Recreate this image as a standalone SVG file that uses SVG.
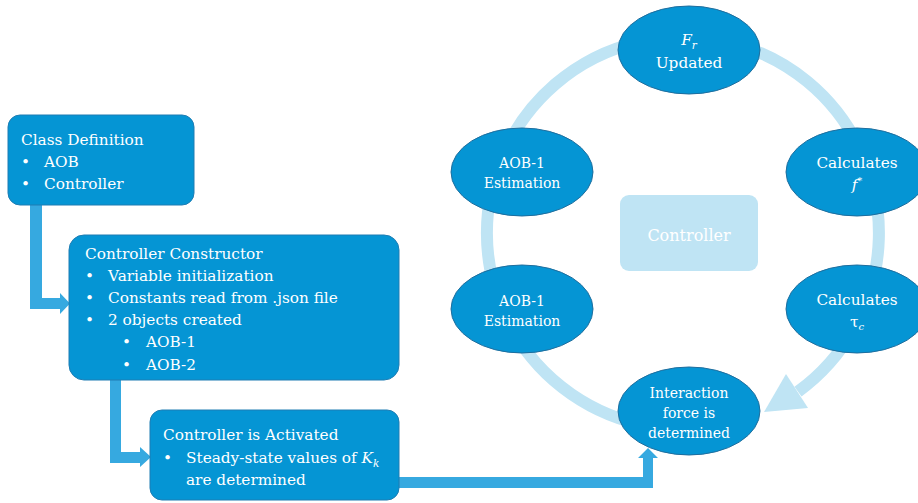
<svg xmlns="http://www.w3.org/2000/svg" width="918" height="503" viewBox="0 0 918 503">
<style>
.box{fill:#0595D4;stroke:#1F7DB3;stroke-width:1}
.ell{fill:#0595D4;stroke:#1F6E9E;stroke-width:1}
.t{font-family:"DejaVu Serif","Liberation Serif",serif;fill:#FFFFFF}
.lt{font-size:15.3px}
.et{font-size:14px;text-anchor:middle}
.ct{font-size:15.3px;text-anchor:middle}
.conn{fill:#36A9E0}
.ring{fill:none;stroke:#BFE4F4;stroke-width:12}
.i{font-style:italic}
</style>
<rect width="918" height="503" fill="#FFFFFF"/>
<g id="cycle-ring">
<path class="ring" d="M649,426 A196,196 0 1 1 798,391.6"/>
<polygon points="764,412 786,374 808,408" fill="#BFE4F4"/>
</g>
<g id="controller-center">
<rect x="620" y="195" width="138" height="76" rx="9" fill="#BFE4F4"/>
<text class="t" x="689" y="241" font-size="16" text-anchor="middle">Controller</text>
</g>
<g id="connectors">
<path class="conn" d="M30,205 H42 V298 H60 V293 L70,303.5 L60,314 V309 H30 Z"/>
<path class="conn" d="M110,380 H121 V452 H140 V447 L151,457 L140,467 V463 H110 Z"/>
<path class="conn" d="M399,477 H643 V458 H638 L648,448 L658,458 H653 V488 H399 Z"/>
</g>
<g id="class-definition">
<rect class="box" x="8" y="115" width="186" height="90" rx="12"/>
<text class="t lt" x="21" y="145">Class Definition</text>
<text class="t lt" x="21" y="167">•</text><text class="t lt" x="44" y="167">AOB</text>
<text class="t lt" x="21" y="189">•</text><text class="t lt" x="44" y="189">Controller</text>
</g>
<g id="controller-constructor">
<rect class="box" x="69" y="235" width="330" height="145" rx="15"/>
<text class="t lt" x="85" y="259">Controller Constructor</text>
<text class="t lt" x="85" y="281">•</text><text class="t lt" x="108" y="281">Variable initialization</text>
<text class="t lt" x="85" y="303">•</text><text class="t lt" x="108" y="303">Constants read from .json file</text>
<text class="t lt" x="85" y="325">•</text><text class="t lt" x="108" y="325">2 objects created</text>
<text class="t lt" x="122" y="347">•</text><text class="t lt" x="146" y="347">AOB-1</text>
<text class="t lt" x="122" y="370">•</text><text class="t lt" x="146" y="370">AOB-2</text>
</g>
<g id="controller-activated">
<rect class="box" x="150" y="410" width="249" height="90" rx="12"/>
<text class="t lt" x="163" y="440">Controller is Activated</text>
<text class="t lt" x="163" y="463">•</text><text class="t lt" x="186" y="463">Steady-state values of <tspan class="i">K</tspan><tspan class="i" font-size="10.5" dy="4">k</tspan></text>
<text class="t lt" x="186" y="485">are determined</text>
</g>
<g id="fr-updated">
<ellipse class="ell" cx="689" cy="50" rx="71" ry="44"/>
<text class="t ct" x="689" y="45"><tspan class="i">F</tspan><tspan class="i" font-size="10.5" dy="4">r</tspan></text>
<text class="t ct" x="689" y="68">Updated</text>
</g>
<g id="aob1-estimation-top">
<ellipse class="ell" cx="522" cy="172" rx="71" ry="44"/>
<text class="t et" x="522" y="168">AOB-1</text>
<text class="t et" x="522" y="188">Estimation</text>
</g>
<g id="aob1-estimation-bottom">
<ellipse class="ell" cx="522" cy="309" rx="71" ry="44"/>
<text class="t et" x="522" y="306">AOB-1</text>
<text class="t et" x="522" y="326">Estimation</text>
</g>
<g id="calculates-f">
<ellipse class="ell" cx="857" cy="172" rx="71" ry="44"/>
<text class="t ct" x="857" y="168">Calculates</text>
<text class="t ct" x="857" y="190"><tspan class="i">f</tspan><tspan font-size="10" dy="-6">*</tspan></text>
</g>
<g id="calculates-tau">
<ellipse class="ell" cx="857" cy="309" rx="71" ry="44"/>
<text class="t ct" x="857" y="305">Calculates</text>
<text class="t ct" x="857" y="327">τ<tspan class="i" font-size="10" dy="3">c</tspan></text>
</g>
<g id="interaction-force">
<ellipse class="ell" cx="689" cy="411" rx="71" ry="44"/>
<text class="t et" x="689" y="398">Interaction</text>
<text class="t et" x="689" y="418">force is</text>
<text class="t et" x="689" y="438">determined</text>
</g>
</svg>
